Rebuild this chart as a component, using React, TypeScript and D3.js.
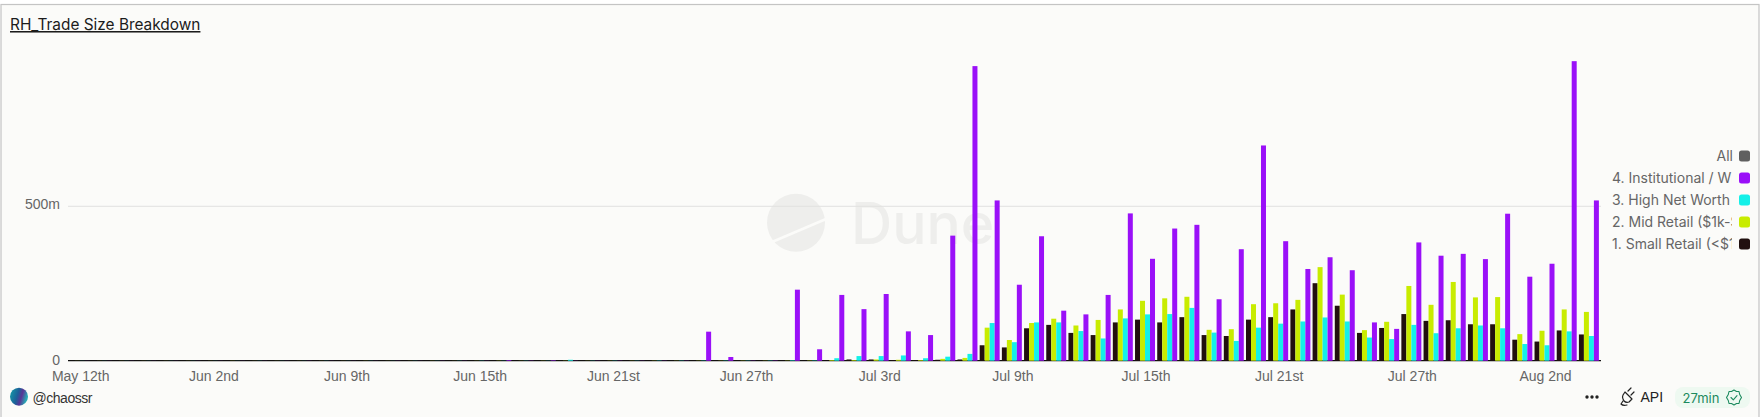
import * as d3 from 'd3';

// x axis is categorical: a few sparse days first, then daily from Jun 9th
const earlyDays = ['2025-05-12', '2025-05-14', '2025-05-19', '2025-05-21', '2025-05-26', '2025-05-29',
  '2025-06-02', '2025-06-03', '2025-06-04', '2025-06-05', '2025-06-06', '2025-06-08'];
const dailyDays = [
  '06-09', '06-10', '06-11', '06-12', '06-13', '06-14', '06-15', '06-16', '06-17', '06-18', '06-19', '06-20',
  '06-21', '06-22', '06-23', '06-24', '06-25', '06-26', '06-27', '06-28', '06-29', '06-30', '07-01', '07-02',
  '07-03', '07-04', '07-05', '07-06', '07-07', '07-08', '07-09', '07-10', '07-11', '07-12', '07-13', '07-14',
  '07-15', '07-16', '07-17', '07-18', '07-19', '07-20', '07-21', '07-22', '07-23', '07-24', '07-25', '07-26',
  '07-27', '07-28', '07-29', '07-30', '07-31', '08-01', '08-02', '08-03', '08-04',
].map((d) => `2025-${d}`);
const days = [...earlyDays, ...dailyDays];

const tickDays = ['2025-05-12', '2025-06-02', '2025-06-09', '2025-06-15', '2025-06-21', '2025-06-27',
  '2025-07-03', '2025-07-09', '2025-07-15', '2025-07-21', '2025-07-27', '2025-08-02'];
const tickLabels = ['May 12th', 'Jun 2nd', 'Jun 9th', 'Jun 15th', 'Jun 21st', 'Jun 27th',
  'Jul 3rd', 'Jul 9th', 'Jul 15th', 'Jul 21st', 'Jul 27th', 'Aug 2nd'];

// values in millions
const small = [
  0.3, 0.2, 0.3, 0.2, 0.3, 0.2, 0.3, 0.3, 0.2, 0.3, 0.2, 0.3, 0.3, 0.2, 0.3, 0.3, 0.2, 0.3, 0.3, 0.4,
  0.3, 0.3, 0.4, 0.3, 0.4, 0.3, 0.4, 0.4, 0.5, 0.5, 0.5, 0.5, 0.5, 0.6, 0.8,
  4, 4, 2, 2, 3, 4, 50, 43, 105, 116, 90, 83, 124, 133, 124, 141, 83, 80, 133, 141, 166, 251, 178,
  90, 106, 151, 129, 131, 118, 118, 68, 62, 98, 85,
];
const mid = [
  0.2, 0.2, 0.2, 0.2, 0.2, 0.2, 0.2, 0.3, 0.2, 0.2, 0.2, 0.2, 0.2, 0.3, 0.2, 0.2, 0.3, 0.2, 0.3, 0.5,
  0.3, 0.4, 0.5, 0.3, 0.4, 0.4, 0.5, 0.4, 0.5, 0.5, 0.6, 0.5, 0.6, 0.8, 2,
  2, 4, 3, 2, 6, 9, 107, 67, 122, 136, 114, 132, 166, 194, 202, 207, 100, 102, 183, 186, 197, 303, 214,
  99, 126, 242, 181, 255, 205, 206, 86, 97, 166, 158,
];
const high = [
  0.2, 0.2, 0.2, 0.2, 0.2, 0.2, 0.2, 0.2, 0.3, 0.2, 0.2, 0.3, 0.2, 0.3, 0.2, 0.3, 0.3, 0.4, 0.5, 0.4,
  0.5, 0.4, 3, 0.5, 0.6, 0.5, 0.8, 0.7, 0.8, 0.8, 0.7, 0.8, 1.5, 1, 8,
  15, 15, 17, 8, 13, 22, 122, 60, 124, 124, 96, 72, 137, 150, 151, 171, 91, 64, 107, 120, 127, 140, 127,
  75, 70, 116, 89, 105, 114, 105, 54, 50, 95, 80,
];
const institutional = [
  0.2, 0.2, 0.2, 0.2, 0.2, 0.2, 0.2, 0.2, 0.2, 0.2, 0.3, 0.2, 0.2, 0.2, 0.3, 0.2, 0.3, 0.3, 0.3, 2,
  0.6, 1.5, 0.4, 0.4, 0.5, 0.4, 0.5, 0.5, 94, 12, 0.6, 0.8, 230, 37, 213,
  167, 216, 95, 83, 405, 954, 519, 246, 403, 162, 150, 213, 477, 330, 428, 440, 199, 361, 697, 387, 297, 335, 293,
  124, 103, 383, 340, 346, 329, 476, 272, 314, 970, 519,
];

const seriesNames = ['1. Small Retail (<$1k)', '2. Mid Retail ($1k-$10k)', '3. High Net Worth', '4. Institutional / Whale'];
const seriesColors = ['#21100f', '#c8ec00', '#14f0e8', '#9a10f8'];
const seriesValues = [small, mid, high, institutional];

const legendNames = ['All', seriesNames[3], seriesNames[2], seriesNames[1], seriesNames[0]];
const legendColors = ['#5f5f5f', seriesColors[3], seriesColors[2], seriesColors[1], seriesColors[0]];

const yTicks = [0, 500];
const WIDTH = 1763;
const HEIGHT = 417;
const SANS = '"Liberation Sans", Arial, sans-serif';
const INTER = 'Inter, "Noto Sans", sans-serif';

export default function App() {
  const x = d3.scaleBand<string>().domain(days).range([68.6, 1600]);
  const step = x.bandwidth();
  const inner = d3.scaleBand<number>().domain([0, 1, 2, 3]).range([0, step * 0.9]);
  const y = d3.scaleLinear().domain([0, 500]).range([360.7, 206.3]);

  return (
    <svg
      width={WIDTH}
      height={HEIGHT}
      viewBox={`0 0 ${WIDTH} ${HEIGHT}`}
      style={{ position: 'absolute', top: 0, left: 0, display: 'block' }}
    >
      <defs>
        <clipPath id="legend-clip">
          <rect x={1600} y={140} width={132} height={120} />
        </clipPath>
        <linearGradient id="avatar" x1="0" y1="0" x2="1" y2="0.3">
          <stop offset="0" stopColor="#12a0a8" />
          <stop offset="0.5" stopColor="#1d5f98" />
          <stop offset="0.72" stopColor="#5a3596" />
          <stop offset="1" stopColor="#28a8b4" />
        </linearGradient>
      </defs>

      <rect x={0} y={0} width={WIDTH} height={HEIGHT} fill="#ffffff" />
      <rect x={1} y={4.5} width={1758} height={HEIGHT} fill="#fbfbf9" stroke="#c4c4c4" strokeWidth={1.2} />

      <text x={10} y={30} fontFamily={INTER} fontSize={15.4} fill="#1c1c1c" textDecoration="underline">
        RH_Trade Size Breakdown
      </text>

      {/* watermark */}
      <g>
        <circle cx={796} cy={222.7} r={29} fill="#eeeeec" />
        <path d="M772 242 L826 219" stroke="#fbfbf9" strokeWidth={2.5} />
        <text x={851} y={244} fontFamily={INTER} fontSize={57} fontWeight={500} fill="#eeeeec">Dune</text>
      </g>

      {/* y axis */}
      {yTicks.map((t) => (
        <g key={t}>
          <line
            x1={68}
            x2={1601}
            y1={y(t)}
            y2={y(t)}
            stroke={t === 0 ? '#111111' : '#e2e2e0'}
            strokeWidth={t === 0 ? 1.2 : 1}
          />
          <text x={60} y={t === 0 ? 365 : 209} textAnchor="end" fontFamily={SANS} fontSize={14} fill="#666666">
            {t === 0 ? '0' : `${t}m`}
          </text>
        </g>
      ))}

      {/* bars */}
      {seriesValues.map((values, s) => (
        <g key={seriesNames[s]} fill={seriesColors[s]}>
          {values.map((v, i) => (
            <rect
              key={days[i]}
              x={(x(days[i]) ?? 0) + step * 0.05 + (inner(s) ?? 0)}
              y={y(v)}
              width={inner.bandwidth()}
              height={y(0) - y(v)}
            />
          ))}
        </g>
      ))}

      {/* x axis labels */}
      {tickDays.map((d, i) => (
        <text
          key={d}
          x={(x(d) ?? 0) + step / 2 + 1}
          y={381}
          textAnchor="middle"
          fontFamily={SANS}
          fontSize={14}
          fill="#666666"
        >
          {tickLabels[i]}
        </text>
      ))}

      {/* legend */}
      {legendNames.map((name, i) => {
        const cy = 156 + i * 22;
        return (
          <g key={name}>
            {i === 0 ? (
              <text x={1733} y={cy + 5} textAnchor="end" fontFamily={INTER} fontSize={14} fill="#666666">{name}</text>
            ) : (
              <text x={1612} y={cy + 5} clipPath="url(#legend-clip)" fontFamily={INTER} fontSize={14} fill="#666666">{name}</text>
            )}
            <rect x={1739} y={cy - 5.5} width={11} height={11} rx={2.5} fill={legendColors[i]} />
          </g>
        );
      })}

      {/* footer */}
      <circle cx={19} cy={396.7} r={9} fill="url(#avatar)" />
      <text x={32.5} y={402.5} fontFamily={SANS} fontSize={14} fill="#333333" textLength={60}>@chaossr</text>

      {[1587, 1592, 1597].map((cx) => <circle key={cx} cx={cx} cy={397} r={1.7} fill="#222222" />)}

      <g fill="none" stroke="#222222" strokeWidth={1.2} strokeLinecap="round" strokeLinejoin="round">
        <path d="M1625 392 L1632 399 L1629 402 Q1626 403 1624 401 L1623 399 Q1622 397 1623 395 Z" />
        <path d="M1628 391 L1631 388 M1631 395 L1634 392 M1623 401 L1621 404 Q1623 406 1627 405" />
      </g>
      <text x={1640.5} y={402} fontFamily={SANS} fontSize={14} fill="#222222">API</text>

      <rect x={1675} y={387} width={75} height={21} rx={8} fill="#eef9f1" />
      <text x={1682.5} y={402.5} fontFamily={INTER} fontSize={13} fill="#1c8a5e">27min</text>
      <g fill="none" stroke="#1c8a5e" strokeWidth={1.1} strokeLinecap="round" strokeLinejoin="round">
        <path d="M1734 390 L1736.5 391.5 L1739 391.5 L1739.7 394.5 L1741.5 397.5 L1739.7 400.5 L1739 403.5 L1736.5 403.5 L1734 405 L1731.5 403.5 L1729 403.5 L1728.3 400.5 L1726.5 397.5 L1728.3 394.5 L1729 391.5 L1731.5 391.5 Z" />
        <path d="M1731 397.5 L1733.3 399.8 L1737 395.6" />
      </g>
    </svg>
  );
}
